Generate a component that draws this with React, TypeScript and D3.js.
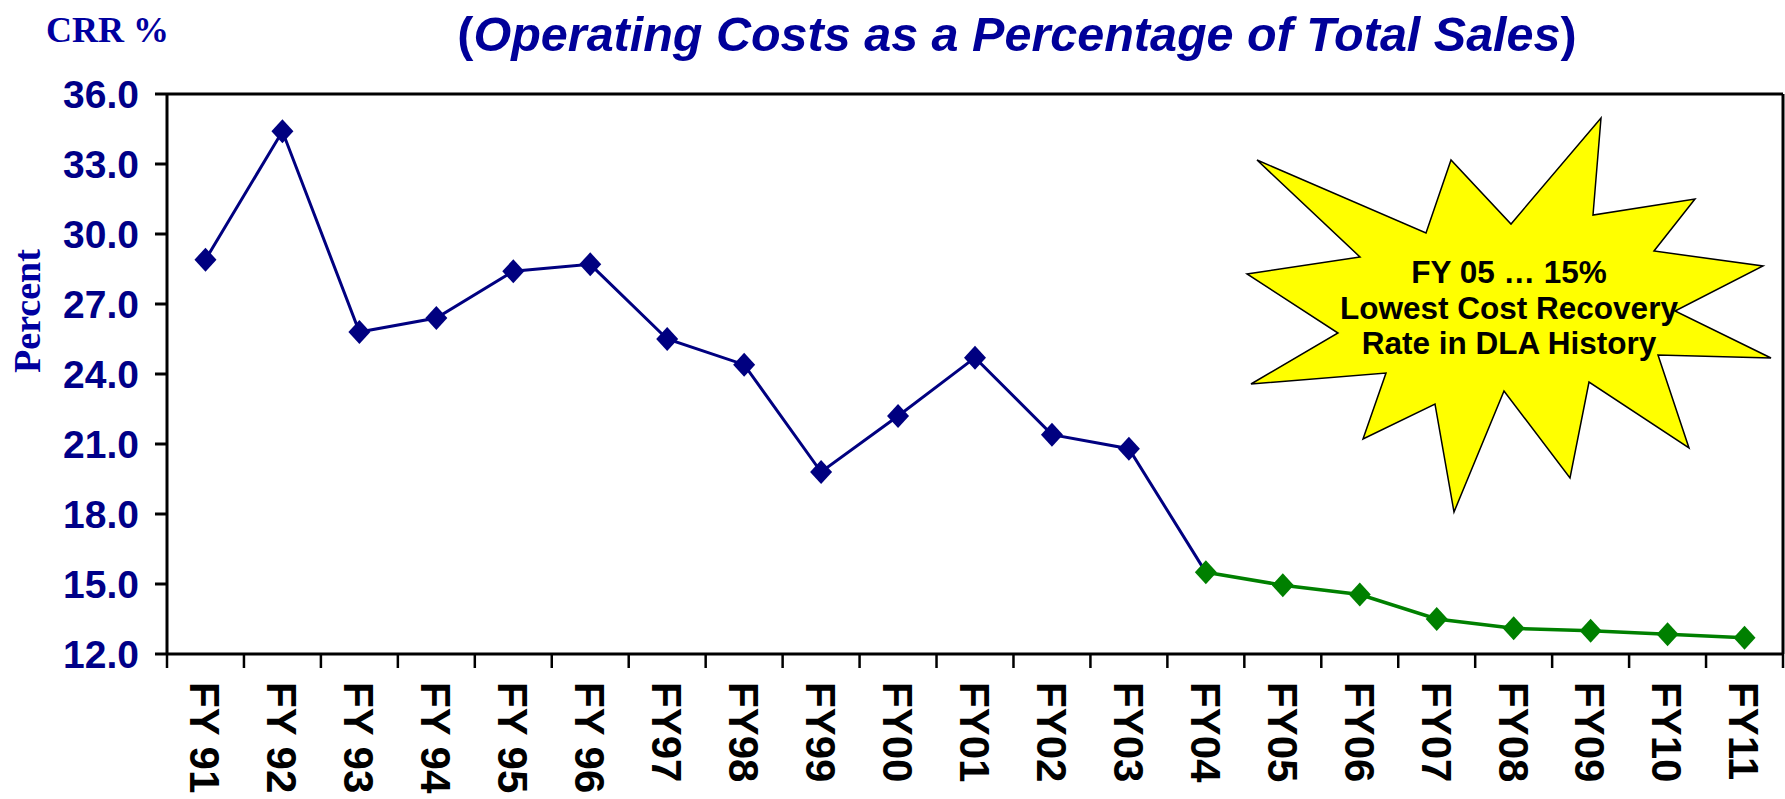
import React from "react";
import * as d3 from "d3";

// ---- Data ----
const categories = [
  "FY 91", "FY 92", "FY 93", "FY 94", "FY 95", "FY 96", "FY97", "FY98", "FY99", "FY00",
  "FY01", "FY02", "FY03", "FY04", "FY05", "FY06", "FY07", "FY08", "FY09", "FY10", "FY11",
];
// Actual CRR (FY91 - FY04)
const actualCategories = categories.slice(0, 14);
const actualValues = [28.9, 34.4, 25.8, 26.4, 28.4, 28.7, 25.5, 24.4, 19.8, 22.2, 24.7, 21.4, 20.8, 15.5];
// Projected CRR (FY04 - FY11)
const projectedCategories = categories.slice(13);
const projectedValues = [15.5, 14.95, 14.55, 13.5, 13.1, 13.0, 12.85, 12.7];
const yTicks = [12, 15, 18, 21, 24, 27, 30, 33, 36];

const titleText = "Operating Costs as a Percentage of Total Sales";
const calloutLines = ["FY 05 \u2026 15%", "Lowest Cost Recovery", "Rate in DLA History"];

// starburst outline (annotation shape, pixel offsets)
const starPoints: [number, number][] = [
  [1257, 160], [1426, 233], [1451, 160], [1511, 224], [1601, 118], [1593, 215],
  [1695, 199], [1654, 251], [1763, 266], [1675, 311], [1771, 358], [1658, 355],
  [1689, 448], [1589, 382], [1570, 478], [1504, 391], [1454, 512], [1435, 404],
  [1363, 439], [1386, 373], [1251, 384], [1338, 333], [1247, 274], [1360, 257],
];

const W = 1785;
const H = 799;
const left = 167;
const right = 1783;
const top = 94;
const bottom = 654;

const NAVY = "#000080";
const GREEN = "#008000";
const SANS = "Arial, 'Liberation Sans', sans-serif";
const SERIF = "'Times New Roman', 'Liberation Serif', serif";

export default function App() {
  const x = d3.scaleBand<string>().domain(categories).range([left, right]).padding(0);
  const bw = x.bandwidth();
  const cx = (c: string) => (x(c) as number) + bw / 2;
  const y = d3.scaleLinear().domain([12, 36]).range([bottom, top]);

  const line = d3
    .line<[string, number]>()
    .x((d) => cx(d[0]))
    .y((d) => y(d[1]));

  const actual: [string, number][] = actualCategories.map((c, i) => [c, actualValues[i]]);
  const projected: [string, number][] = projectedCategories.map((c, i) => [c, projectedValues[i]]);

  const diamond = (px: number, py: number) =>
    `M${px},${py - 12}L${px + 11},${py}L${px},${py + 12}L${px - 11},${py}Z`;

  const xTickPositions = d3.range(categories.length + 1).map((i) => left + i * bw);

  return (
    <svg
      width={W}
      height={H}
      viewBox={`0 0 ${W} ${H}`}
      style={{ position: "absolute", left: 0, top: 0, background: "#fff" }}
    >
      <rect x={0} y={0} width={W} height={H} fill="#fff" />

      {/* Titles */}
      <text x={46} y={42} fontFamily={SERIF} fontWeight="bold" fontSize={36} fill="#0000A0">
        CRR %
      </text>
      <text
        x={1017}
        y={51}
        textAnchor="middle"
        fontFamily={SANS}
        fontWeight="bold"
        fontSize={48.5}
        fill="#000099"
      >
        <tspan>(</tspan>
        <tspan fontStyle="italic">{titleText}</tspan>
        <tspan>)</tspan>
      </text>
      <text
        transform="translate(27,311) rotate(-90)"
        textAnchor="middle"
        dy="0.35em"
        fontFamily={SERIF}
        fontWeight="bold"
        fontSize={38}
        fill="#0000A0"
      >
        Percent
      </text>

      {/* Frame */}
      <line x1={left} x2={right} y1={top} y2={top} stroke="#000" strokeWidth={3} />
      <line x1={right} x2={right} y1={top} y2={bottom} stroke="#000" strokeWidth={3} />
      <line x1={left} x2={left} y1={top} y2={bottom} stroke="#000" strokeWidth={3} />
      <line x1={left} x2={right} y1={bottom} y2={bottom} stroke="#000" strokeWidth={3} />

      {/* Y ticks */}
      {yTicks.map((t) => (
        <g key={t}>
          <line x1={155} x2={left} y1={y(t)} y2={y(t)} stroke="#000" strokeWidth={3} />
          <text
            x={139}
            y={y(t)}
            dy="0.36em"
            textAnchor="end"
            fontFamily={SANS}
            fontWeight="bold"
            fontSize={39}
            fill="#000088"
          >
            {t.toFixed(1)}
          </text>
        </g>
      ))}

      {/* X ticks */}
      {xTickPositions.map((p, i) => (
        <line key={i} x1={p} x2={p} y1={bottom} y2={bottom + 14} stroke="#000" strokeWidth={2.5} />
      ))}
      {categories.map((c) => (
        <text
          key={c}
          transform={`translate(${cx(c)},682) rotate(90)`}
          dy="0.36em"
          textAnchor="start"
          fontFamily={SANS}
          fontWeight="bold"
          fontSize={42}
          fill="#000"
        >
          {c}
        </text>
      ))}

      {/* Series */}
      <path d={line(actual) as string} fill="none" stroke={NAVY} strokeWidth={3} />
      <path d={line(projected) as string} fill="none" stroke={GREEN} strokeWidth={3.5} />
      {actual.slice(0, actual.length - 1).map((d) => (
        <path key={d[0]} d={diamond(cx(d[0]), y(d[1]))} fill={NAVY} />
      ))}
      {projected.map((d) => (
        <path key={d[0]} d={diamond(cx(d[0]), y(d[1]))} fill={GREEN} />
      ))}

      {/* Callout */}
      <polygon
        points={starPoints.map((p) => p.join(",")).join(" ")}
        fill="#FFFF00"
        stroke="#000"
        strokeWidth={1.5}
        strokeLinejoin="miter"
      />
      {calloutLines.map((l, i) => (
        <text
          key={i}
          x={1509}
          y={283 + i * 35.5}
          textAnchor="middle"
          fontFamily={SANS}
          fontWeight="bold"
          fontSize={31.5}
          fill="#000"
        >
          {l}
        </text>
      ))}
    </svg>
  );
}
